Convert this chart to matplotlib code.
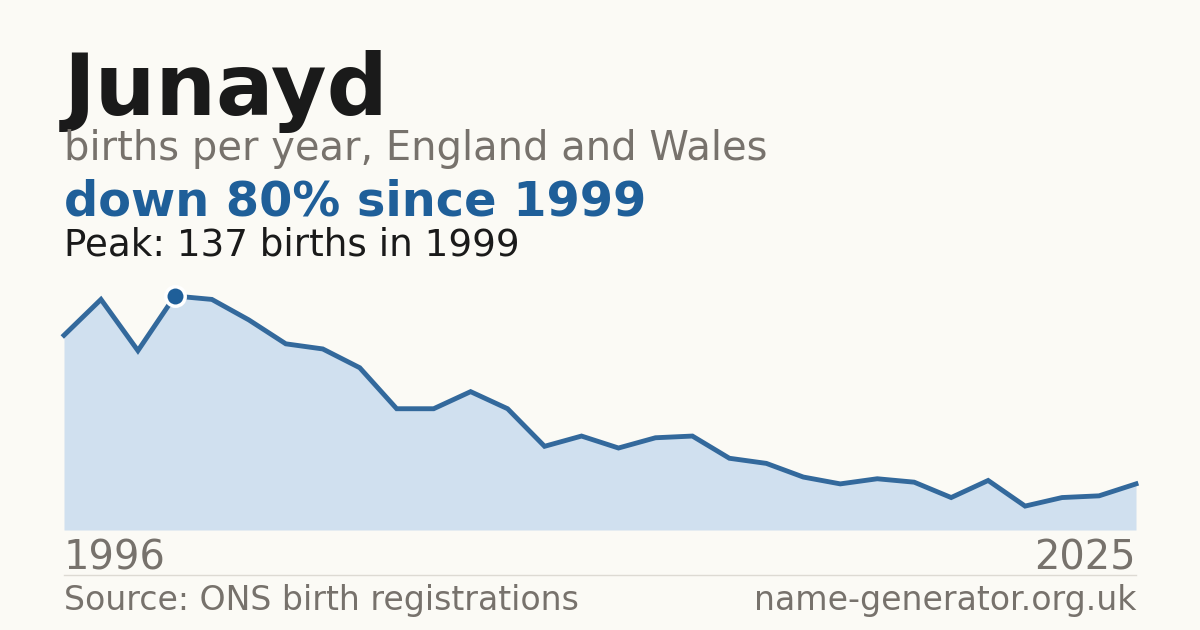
import numpy as np
import matplotlib.pyplot as plt

# births per year
years = list(range(1996, 2026))
births = [114, 135, 105, 137, 135, 123, 109, 106, 95, 71,
          71, 81, 71, 49, 55, 48, 54, 55, 42, 39,
          31, 27, 30, 28, 19, 29, 14, 19, 20, 27]

name = "Junayd"
subtitle = "births per year, England and Wales"
headline = "down 80% since 1999"
peak_text = "Peak: 137 births in 1999"
source = "Source: ONS birth registrations"
site = "name-generator.org.uk"

bg = "#fbfaf5"
blue = "#1f5f99"
grey = "#77726c"

W, H = 1200, 630
fig = plt.figure(figsize=(12, 6.3), dpi=100, facecolor=bg)
plt.rcParams['font.family'] = ['DejaVu Sans']

ax = fig.add_axes([64 / W, 100 / H, 1072 / W, 234 / H])
ax.set_facecolor(bg)
ax.fill_between(years, births, 0, color="#d0e0ef", linewidth=0)
ax.plot(years, births, color="#33699c", linewidth=3.5, solid_joinstyle="miter", clip_on=False)
pk = int(np.argmax(births))
ax.plot(years[pk], births[pk], marker="o", markersize=14, color=blue,
        markeredgecolor="white", markeredgewidth=2.5, clip_on=False, zorder=5)
ax.set_xlim(years[0], years[-1])
ax.set_ylim(0, max(births))
ax.axis("off")

def px(x, y):
    return x / W, 1 - y / H

fig.text(*px(64, 115), name, fontsize=61.5, fontweight="bold", color="#1a1a1a", va="baseline")
fig.text(*px(64, 160), subtitle, fontsize=28.8, color=grey, va="baseline")
fig.text(*px(64, 215), headline, fontsize=34.5, fontweight="bold", color=blue, va="baseline")
fig.text(*px(64, 255), peak_text, fontsize=26.8, color="#1a1a1a", va="baseline")
fig.text(*px(64, 570), str(years[0]), fontsize=28.8, color=grey, va="baseline")
fig.text(*px(1136, 570), str(years[-1]), fontsize=28.8, color=grey, va="baseline", ha="right")
fig.add_artist(plt.Line2D([64 / W, 1136 / W], [1 - 575 / H] * 2, color="#dddad3", linewidth=1))
fig.text(*px(64, 610), source, fontsize=23.9, color=grey, va="baseline")
fig.text(*px(1136, 610), site, fontsize=23.9, color=grey, va="baseline", ha="right")

fig.savefig("out.png", dpi=100, facecolor=bg)
